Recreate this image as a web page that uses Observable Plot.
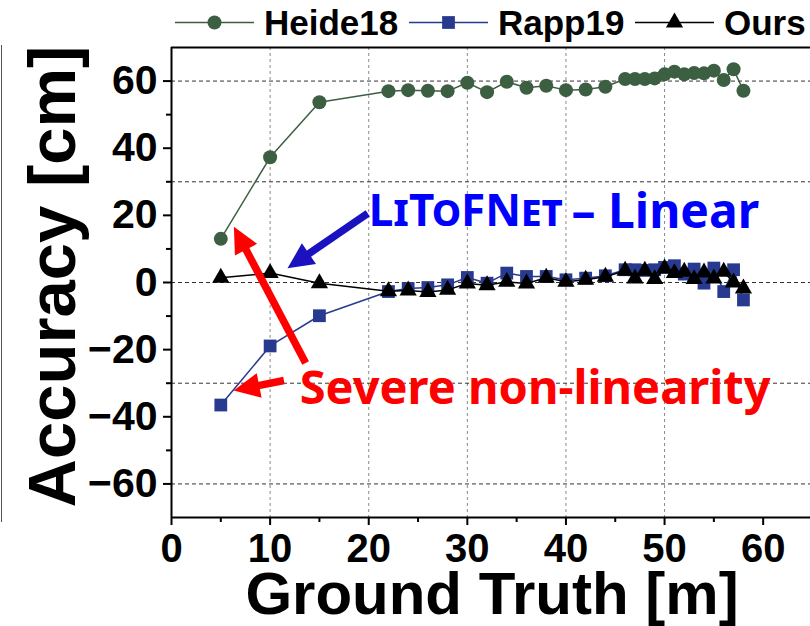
<!DOCTYPE html>
<html><head><meta charset="utf-8">
<script src="https://cdn.jsdelivr.net/npm/d3@7"></script>
<script src="https://cdn.jsdelivr.net/npm/@observablehq/plot@0.6"></script>
<style>
body{margin:0;background:#fff;font-family:"Liberation Sans",Arial,sans-serif;}
#wrap{position:relative;width:810px;height:626px;overflow:hidden;background:#fff;}
#legend{position:relative;height:45px;}
.item{position:absolute;top:0;height:45px;display:flex;align-items:center;font-weight:bold;font-size:35px;color:#000;white-space:nowrap;}
.item svg{margin-right:10px;}
#edge{position:absolute;left:1px;top:45px;width:0;height:477px;border-left:1.5px solid #555;}
#chart svg{display:block;}
</style></head><body>
<div id="wrap"><div id="legend"></div><div id="chart"></div><div id="edge"></div></div>
<script>
// ---- data ----
const distances = [5,10,15,22,24,26,28,30,32,34,36,38,40,42,44,46,47,48,49,50,51,52,53,54,55,56,57,58];
const heide18 = [13,37.3,53.7,57,57.3,57.1,57,59.5,56.7,59.8,58,58.6,57.3,57.5,58.3,60.6,60.6,60.6,60.8,62,62.8,62,62.4,62.3,63.1,60.3,63.5,57.1];
const rapp19  = [-36.5,-18.9,-9.9,-2.7,-1.8,-1.5,-0.7,1.5,-0.2,2.8,1.8,1.8,0.8,1.3,2,3.8,3.8,3.6,3.8,4.5,5,2.5,4,-0.2,4.3,-2.7,3.8,-5.2];
const ours    = [1.4,2.8,-0.2,-2.6,-2.4,-2.8,-2.2,-0.3,-0.8,0.2,-0.3,1.4,0.2,0.8,1.7,3.5,1.2,3.5,1,4.2,2.8,3.2,1,3,1.2,3.2,0,-1.8];

const seriesNames = ["Heide18","Rapp19","Ours"];
const seriesColors = ["#3c5e41","#283a8f","#000000"];
const seriesSymbols = ["circle","square","triangle"];

const xMajorTicks = [0,10,20,30,40,50,60];
const xMinorTicks = [5,15,25,35,45,55];
const xGridTicks = [10,20,30,40,50];
const yMajorTicks = [-60,-40,-20,0,20,40,60];
const yMinorTicks = [-50,-30,-10,10,30,50];
const yGridTicks = [-60,-30,0,30,60];

// annotations (data coordinates)
const noteLabels = ["LiToFNet", "\u2013 Linear", "Severe non-linearity"];
const noteX = [20.0, 59.6, 13.0];
const noteY = [20.9, 20.9, -31.6];
const noteAnchor = ["start","end","start"];
const noteColor = ["#0000ff","#0000ff","#ff0000"];
const noteVariant = ["small-caps","normal","normal"];
const noteSize = [44, 48, 47];

const arrowX1 = [19.9, 13.6, 11.4];
const arrowY1 = [20.6, -24.0, -29.2];
const arrowX2 = [12.6, 6.8, 7.3];
const arrowY2 = [5.9, 14.0, -31.6];
const arrowColor = ["#1a12bf","#ff0000","#ff0000"];

// ---- tables ----
const table = distances.map((d,i)=>({d, heide: heide18[i], rapp: rapp19[i], ours: ours[i]}));
const notes = noteLabels.map((t,i)=>({t, x: noteX[i], y: noteY[i], a: noteAnchor[i], c: noteColor[i], v: noteVariant[i], s: noteSize[i]}));
const arrows = arrowX1.map((x1,i)=>({x1, y1: arrowY1[i], x2: arrowX2[i], y2: arrowY2[i], c: arrowColor[i]}));
const fmt = d => d < 0 ? "\u2212" + Math.abs(d) : String(d);
const keys = ["heide","rapp","ours"];
const rs = [7, 7.2, 6.4];

const marks = [
  Plot.gridX(xGridTicks, {stroke: "#8a8a8a", strokeOpacity: 1, strokeDasharray: "3,3", strokeWidth: 1}),
  Plot.gridY(yGridTicks, {stroke: "#333", strokeOpacity: 1, strokeDasharray: "4,3", strokeWidth: 1}),
  Plot.axisX(xMajorTicks, {tickSize: 8, tickPadding: 8, fontSize: 40, fontWeight: "bold", label: null, strokeWidth: 2}),
  Plot.axisX(xMinorTicks, {tickSize: 5, tickFormat: () => "", label: null, strokeWidth: 2}),
  Plot.axisY(yMajorTicks, {tickSize: 8, tickPadding: 6, fontSize: 41, fontWeight: "bold", tickFormat: fmt, label: null, strokeWidth: 2}),
  Plot.axisY(yMinorTicks, {tickSize: 5, tickFormat: () => "", label: null, strokeWidth: 2}),
  Plot.ruleX([0], {strokeWidth: 2}),
  Plot.ruleY([-70], {strokeWidth: 2}),
  Plot.ruleY([70], {strokeWidth: 2}),
  Plot.text(["Ground Truth [m]"], {frameAnchor: "bottom", dy: 77, dx: 1, fontSize: 60, fontWeight: "bold", lineAnchor: "middle", textAnchor: "middle"}),
  Plot.text(["Accuracy [cm]"], {frameAnchor: "left", dx: -118, dy: -6, rotate: -90, fontSize: 67, fontWeight: "bold", lineAnchor: "middle", textAnchor: "middle"})
];
keys.forEach((k,i) => {
  marks.push(Plot.line(table, {x: "d", y: k, stroke: seriesColors[i], strokeWidth: 1.5}));
  marks.push(Plot.dot(table, {x: "d", y: k, r: rs[i], fill: seriesColors[i], stroke: "none", symbol: seriesSymbols[i]}));
});
marks.push(Plot.link(arrows, {x1: "x1", y1: "y1", x2: "x2", y2: "y2", stroke: d => d.c, strokeWidth: 7.5, strokeLinecap: "butt", markerEnd: "arrow"}));
notes.forEach(n => {
  marks.push(Plot.text([n], {x: "x", y: "y", text: "t", fill: n.c, textAnchor: n.a, fontVariant: n.v, fontSize: n.s, fontWeight: "bold", fontFamily: "Noto Sans", lineAnchor: "middle"}));
});

const chart = Plot.plot({
  width: 810, height: 581,
  marginTop: 2, marginRight: 0, marginBottom: 109, marginLeft: 171,
  style: {fontFamily: "Liberation Sans, Arial, sans-serif", fontWeight: "bold", color: "#000", background: "#fff", overflow: "visible"},
  x: {domain: [0, 64.8]},
  y: {domain: [-70, 70]},
  marks
});

// filled arrowheads
chart.querySelectorAll("marker").forEach(m => {
  const color = m.getAttribute("stroke") || "#f00";
  m.setAttribute("markerUnits", "userSpaceOnUse");
  m.setAttribute("viewBox", "-30 -15 45 30");
  m.setAttribute("markerWidth", 45);
  m.setAttribute("markerHeight", 30);
  m.setAttribute("fill", color);
  m.setAttribute("stroke", "none");
  m.innerHTML = "";
  const p = document.createElementNS("http://www.w3.org/2000/svg", "path");
  p.setAttribute("d", "M-16,-12.5L10,0L-16,12.5Z");
  m.appendChild(p);
});
document.getElementById("chart").appendChild(chart);

// legend
const legendLeft = [175, 409, 635];
const legend = document.getElementById("legend");
seriesNames.forEach((name,i) => {
  const div = document.createElement("div");
  div.className = "item";
  div.style.left = legendLeft[i] + "px";
  const sym = d3.symbol(d3["symbol" + seriesSymbols[i][0].toUpperCase() + seriesSymbols[i].slice(1)], rs[i]*rs[i]*Math.PI)();
  div.innerHTML = `<svg width="79" height="45"><line x1="0" x2="79" y1="22.5" y2="22.5" stroke="${seriesColors[i]}" stroke-width="1.5"/><path transform="translate(39.5,22.5)" d="${sym}" fill="${seriesColors[i]}"/></svg><span>${name}</span>`;
  legend.appendChild(div);
});
</script>
</body></html>
